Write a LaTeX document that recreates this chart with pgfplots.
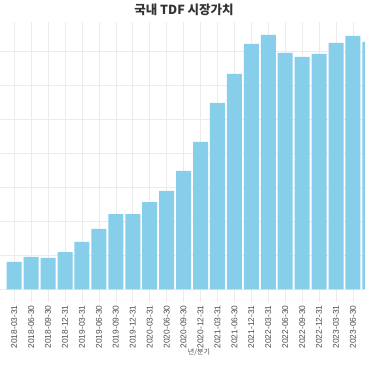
\documentclass[border=0pt]{standalone}
\usepackage{fontspec}
\setmainfont{Liberation Sans}
\newfontfamily\kr{Noto Sans CJK KR}
\usepackage{pgfplots}
\pgfplotsset{compat=1.18}
\definecolor{barblue}{HTML}{87CEEB}
\definecolor{gridc}{HTML}{EBEBEB}
\definecolor{tickc}{HTML}{4D4D4D}
\begin{document}
\begin{tikzpicture}[x=1pt,y=1pt]
\useasboundingbox (0pt,0pt) rectangle (365pt,365pt);
\fill[white] (0pt,0pt) rectangle (365pt,365pt);
\begin{axis}[
  at={(0pt,342.9pt)}, anchor=north west,
  scale only axis, width=365pt, height=280.1pt,
  xmin=-0.838, xmax=20.71, ymin=-0.374, ymax=7.864,
  axis line style={draw=none},
  major tick length=0pt,
  xtick={0,...,21},
  xticklabels={2018-03-31,2018-06-30,2018-09-30,2018-12-31,2019-03-31,2019-06-30,2019-09-30,2019-12-31,2020-03-31,2020-06-30,2020-09-30,2020-12-31,2021-03-31,2021-06-30,2021-12-31,2022-03-31,2022-06-30,2022-09-30,2022-12-31,2023-03-31,2023-06-30,2023-09-30},
  ytick={0,...,7}, yticklabels={},
  grid=major, major grid style={gridc, line width=0.6pt},
  xticklabel style={rotate=90, anchor=east, font=\fontsize{8.4}{10}\selectfont, text=tickc, inner sep=0pt},
  xticklabel shift=3pt,
  /pgf/number format/assume math mode=true,
  clip=true,
]
\addplot[ybar, bar width=15pt, fill=barblue, draw=none] coordinates {
(0,0.81) (1,0.96) (2,0.93) (3,1.10) (4,1.40) (5,1.78) (6,2.22) (7,2.22) (8,2.57) (9,2.90) (10,3.49) (11,4.34) (12,5.49) (13,6.34) (14,7.22) (15,7.49) (16,6.96) (17,6.84) (18,6.93) (19,7.25) (20,7.46) (21,7.28)
};
\end{axis}
\node[font=\kr\bfseries\fontsize{12.5}{14}\selectfont, text=black!80] at (184pt,355.5pt) {국내 TDF 시장가치};
\node[font=\kr\fontsize{7}{8}\selectfont, text=tickc] at (199pt,13pt) {년/분기};
\end{tikzpicture}
\end{document}
